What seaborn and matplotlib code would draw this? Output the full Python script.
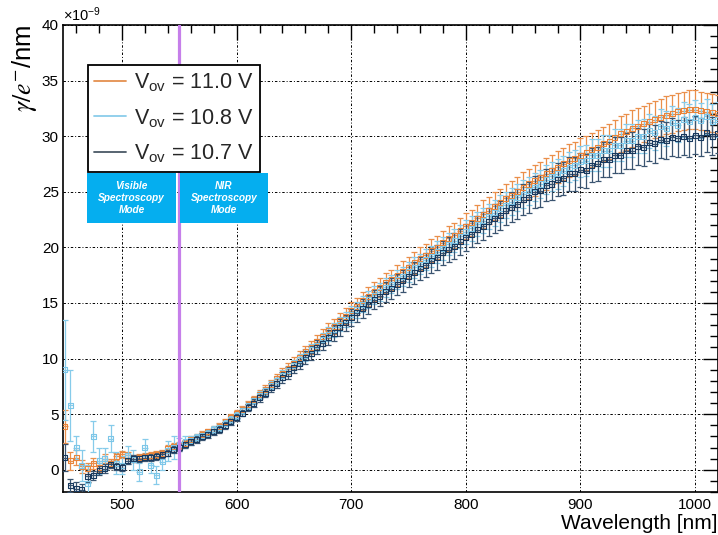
import numpy as np
import pandas as pd
import matplotlib
matplotlib.use("Agg")
import matplotlib.pyplot as plt
import seaborn as sns
from matplotlib.lines import Line2D
from matplotlib.patches import Rectangle
from matplotlib.ticker import MultipleLocator

# ---------------------------------------------------------------- data
wavelength = list(range(450, 1021, 5))  # nm, bin centres

# photons per electron per nm, in units of 1e-9
yield_110 = [
    3.9, 0.8, 1.1, 0.3, 0.1, 0.6, 0.2, 1.0, 0.6, 1.2,
    1.4, 1.3, 1.0, 1.1, 1.2, 1.3, 1.4, 1.5, 1.9, 2.1,
    2.2, 2.4, 2.7, 2.9, 3.2, 3.4, 3.6, 3.9, 4.3, 4.7,
    5.1, 5.4, 5.9, 6.3, 6.8, 7.2, 7.7, 8.2, 8.7, 9.1,
    9.6, 10.1, 10.6, 11.0, 11.5, 12.0, 12.5, 12.9, 13.4, 13.8,
    14.3, 14.7, 15.2, 15.6, 16.0, 16.4, 16.8, 17.1, 17.5, 17.8,
    18.2, 18.6, 19.0, 19.3, 19.7, 20.0, 20.4, 20.8, 21.1, 21.5,
    21.9, 22.2, 22.6, 23.0, 23.3, 23.7, 24.0, 24.4, 24.7, 25.0,
    25.4, 25.7, 26.0, 26.3, 26.6, 26.9, 27.2, 27.5, 27.8, 28.0,
    28.3, 28.5, 28.8, 29.0, 29.3, 29.5, 29.9, 30.2, 30.4, 30.7,
    30.9, 31.1, 31.3, 31.5, 31.7, 31.9, 32.0, 32.2, 32.3, 32.4,
    32.4, 32.3, 32.2, 32.1, 32.0,
]
err_110 = [
    1.5, 0.8, 0.7, 0.6, 0.5, 0.5, 0.4, 0.4, 0.4, 0.3,
    0.3, 0.3, 0.3, 0.3, 0.3, 0.3, 0.3, 0.3, 0.3, 0.3,
    0.3, 0.3, 0.3, 0.3, 0.3, 0.3, 0.3, 0.3, 0.3, 0.3,
    0.3, 0.3, 0.32, 0.34, 0.36, 0.38, 0.41, 0.43, 0.46, 0.48,
    0.51, 0.54, 0.56, 0.58, 0.61, 0.64, 0.66, 0.68, 0.71, 0.73,
    0.76, 0.78, 0.81, 0.83, 0.85, 0.87, 0.89, 0.91, 0.93, 0.94,
    0.96, 0.99, 1.01, 1.02, 1.04, 1.06, 1.08, 1.10, 1.12, 1.14,
    1.16, 1.18, 1.20, 1.22, 1.23, 1.26, 1.27, 1.29, 1.31, 1.33,
    1.35, 1.36, 1.38, 1.39, 1.41, 1.43, 1.44, 1.46, 1.47, 1.48,
    1.50, 1.51, 1.53, 1.54, 1.55, 1.56, 1.58, 1.60, 1.61, 1.63,
    1.64, 1.65, 1.66, 1.67, 1.68, 1.69, 1.70, 1.71, 1.71, 1.72,
    1.72, 1.71, 1.71, 1.70, 1.70,
]

yield_108 = [
    9.0, 5.8, 2.0, 0.4, -1.2, 3.0, 0.8, 1.0, 2.8, 0.6,
    0.4, 1.3, 0.9, -0.2, 2.0, 0.4, -0.5, 0.7, 1.7, 2.0,
    2.3, 2.5, 2.6, 2.9, 3.1, 3.3, 3.6, 3.8, 4.2, 4.5,
    4.9, 5.3, 5.8, 6.2, 6.7, 7.1, 7.6, 8.0, 8.5, 8.9,
    9.4, 9.9, 10.3, 10.8, 11.2, 11.7, 12.2, 12.6, 13.1, 13.5,
    14.0, 14.4, 14.9, 15.3, 15.7, 16.0, 16.4, 16.7, 17.1, 17.4,
    17.8, 18.2, 18.5, 18.9, 19.2, 19.6, 19.9, 20.3, 20.6, 21.0,
    21.4, 21.7, 22.1, 22.4, 22.8, 23.1, 23.5, 23.8, 24.1, 24.5,
    24.8, 25.1, 25.4, 25.7, 26.1, 26.4, 26.6, 26.9, 27.2, 27.4,
    27.7, 27.8, 28.3, 28.3, 28.7, 28.7, 29.2, 29.2, 29.6, 29.6,
    30.0, 30.0, 30.5, 30.3, 30.9, 30.7, 31.2, 31.0, 31.5, 31.3,
    31.7, 31.4, 31.8, 31.3, 31.5,
]
err_108 = [
    4.5, 3.2, 1.0, 1.4, 1.6, 1.4, 1.2, 1.0, 1.2, 1.0,
    0.8, 0.8, 0.9, 0.8, 0.8, 0.7, 0.8, 0.7, 0.9, 1.0,
    0.6, 0.5, 0.4, 0.3, 0.3, 0.3, 0.3, 0.3, 0.3, 0.3,
    0.3, 0.3, 0.3, 0.31, 0.34, 0.36, 0.38, 0.40, 0.43, 0.45,
    0.47, 0.50, 0.52, 0.54, 0.56, 0.59, 0.61, 0.63, 0.66, 0.68,
    0.70, 0.72, 0.75, 0.77, 0.79, 0.80, 0.82, 0.84, 0.86, 0.87,
    0.89, 0.91, 0.93, 0.95, 0.96, 0.98, 1.00, 1.02, 1.03, 1.05,
    1.07, 1.09, 1.11, 1.12, 1.14, 1.16, 1.18, 1.19, 1.21, 1.23,
    1.24, 1.26, 1.27, 1.29, 1.31, 1.32, 1.33, 1.35, 1.36, 1.37,
    1.38, 1.40, 1.41, 1.42, 1.43, 1.44, 1.45, 1.47, 1.48, 1.49,
    1.50, 1.51, 1.52, 1.53, 1.54, 1.55, 1.56, 1.56, 1.57, 1.58,
    1.58, 1.59, 1.58, 1.58, 1.57,
]

yield_107 = [
    1.1, -1.4, -1.7, -1.8, -0.6, -0.5, -0.1, 0.1, 0.5, 0.3,
    0.2, 0.8, 1.0, 1.0, 1.1, 1.1, 1.2, 1.4, 1.5, 1.8,
    2.0, 2.3, 2.5, 2.7, 3.0, 3.2, 3.4, 3.6, 4.0, 4.3,
    4.7, 5.1, 5.6, 6.0, 6.5, 6.9, 7.4, 7.8, 8.3, 8.7,
    9.2, 9.6, 10.1, 10.5, 11.0, 11.4, 11.9, 12.3, 12.8, 13.2,
    13.7, 14.1, 14.5, 14.9, 15.3, 15.6, 16.0, 16.3, 16.7, 17.0,
    17.4, 17.7, 18.1, 18.4, 18.8, 19.1, 19.5, 19.8, 20.1, 20.5,
    20.9, 21.2, 21.6, 21.9, 22.3, 22.6, 22.9, 23.3, 23.6, 23.9,
    24.3, 24.5, 25.0, 25.1, 25.6, 25.7, 26.1, 26.2, 26.6, 26.6,
    27.0, 26.9, 27.4, 27.5, 27.9, 27.9, 28.3, 28.3, 28.7, 28.7,
    29.1, 29.0, 29.4, 29.3, 29.7, 29.6, 29.9, 29.8, 30.0, 29.8,
    30.1, 29.9, 30.3, 30.0, 30.2,
]
err_107 = [
    1.2, 0.6, 0.6, 0.5, 0.5, 0.4, 0.4, 0.4, 0.3, 0.3,
    0.3, 0.3, 0.3, 0.3, 0.3, 0.3, 0.3, 0.3, 0.3, 0.3,
    0.3, 0.3, 0.3, 0.3, 0.3, 0.3, 0.3, 0.3, 0.3, 0.3,
    0.3, 0.3, 0.3, 0.35, 0.37, 0.39, 0.42, 0.44, 0.47, 0.50,
    0.52, 0.55, 0.58, 0.60, 0.63, 0.65, 0.68, 0.70, 0.73, 0.75,
    0.78, 0.80, 0.83, 0.85, 0.87, 0.89, 0.91, 0.93, 0.95, 0.97,
    0.99, 1.01, 1.03, 1.05, 1.07, 1.09, 1.11, 1.13, 1.15, 1.17,
    1.19, 1.21, 1.23, 1.25, 1.27, 1.29, 1.31, 1.33, 1.35, 1.36,
    1.39, 1.40, 1.42, 1.44, 1.45, 1.47, 1.48, 1.50, 1.51, 1.52,
    1.53, 1.54, 1.56, 1.57, 1.58, 1.60, 1.61, 1.62, 1.63, 1.64,
    1.65, 1.66, 1.67, 1.68, 1.69, 1.69, 1.70, 1.70, 1.70, 1.70,
    1.71, 1.71, 1.72, 1.72, 1.72,
]

bin_halfwidth = 2.5  # nm
mode_boundary = 550  # nm

series_labels = [r"V$_{\mathrm{ov}}$ = 11.0 V",
                 r"V$_{\mathrm{ov}}$ = 10.8 V",
                 r"V$_{\mathrm{ov}}$ = 10.7 V"]

# ---------------------------------------------------------------- style
sns.set_theme(style="white")
plt.rcParams["font.family"] = ["Liberation Sans", "DejaVu Sans"]
plt.rcParams["mathtext.fontset"] = "custom"
plt.rcParams["mathtext.rm"] = "Liberation Sans"
plt.rcParams["mathtext.it"] = "Liberation Sans:italic"

W, H = 718, 535
fig = plt.figure(figsize=(W / 100, H / 100), dpi=100)
fig.patch.set_facecolor("white")
ax = fig.add_axes([63 / W, 43 / H, 655 / W, 467 / H])
ax.set_facecolor("white")

frames = []
for lab, y, e in [("11.0", yield_110, err_110),
                  ("10.8", yield_108, err_108),
                  ("10.7", yield_107, err_107)]:
    frames.append(pd.DataFrame({"wavelength": wavelength, "gamma": y,
                                "err": e, "vov": lab}))
df = pd.concat(frames, ignore_index=True)

styles = {
    "11.0": dict(color="#E8843A", ecolor="#EA8F4A"),
    "10.8": dict(color="#7CC6E8", ecolor="#86CBEA"),
    "10.7": dict(color="#18395E", ecolor="#3A5470"),
}

for key in ["11.0", "10.8", "10.7"]:
    d = df[df["vov"] == key]
    st = styles[key]
    ax.errorbar(d["wavelength"], d["gamma"], yerr=d["err"], fmt="none",
                ecolor=st["ecolor"], elinewidth=0.9, capsize=1.9,
                capthick=0.9, zorder=3)
    ax.errorbar(d["wavelength"], d["gamma"], xerr=bin_halfwidth, fmt="none",
                ecolor=st["ecolor"], elinewidth=0.9, capsize=0, zorder=3)
    sns.scatterplot(data=d, x="wavelength", y="gamma", ax=ax, marker="s",
                    s=13, color=st["color"], facecolors="none",
                    edgecolor=st["color"], linewidth=0.8, legend=False,
                    zorder=4)

ax.axvline(mode_boundary, color="#C67FEA", lw=2.3, zorder=5)

# axes
ax.set_xlim(448.5, 1020)
ax.set_ylim(-2, 40)
ax.xaxis.set_major_locator(MultipleLocator(100))
ax.xaxis.set_minor_locator(MultipleLocator(20))
ax.yaxis.set_major_locator(MultipleLocator(5))
ax.yaxis.set_minor_locator(MultipleLocator(1))
ax.tick_params(which="both", direction="in", top=True, right=True,
               color="black", width=1.0)
ax.tick_params(which="major", length=11, labelsize=11, labelcolor="black")
ax.tick_params(which="minor", length=6)
ax.tick_params(axis="x", which="major", pad=4)
ax.tick_params(axis="y", which="major", pad=3)
for sp in ax.spines.values():
    sp.set_visible(True)
    sp.set_color("black")
    sp.set_linewidth(1.2)
ax.grid(True, which="major", color="black", lw=0.7,
        linestyle=(0, (2.5, 2.0, 1.0, 2.0)))
ax.set_axisbelow(True)

ax.set_xlabel("Wavelength [nm]", loc="right", fontsize=15, color="black")
ax.xaxis.set_label_coords(0.999, -0.047)
ax.set_ylabel(r"$\gamma/e^{-}$/nm", loc="top", fontsize=18.5, color="black",
              math_fontfamily="stix")
ax.yaxis.set_label_coords(-0.036, 1.002)
ax.text(0.0, 1.003, r"$\times$10$^{-9}$", transform=ax.transAxes,
        ha="left", va="bottom", fontsize=10.5, color="black")

# legend
handle_colors = ["#E4904F", "#8ACDEA", "#4A5866"]
handles = [Line2D([], [], color=c, lw=1.3) for c in handle_colors]
leg = ax.legend(handles, series_labels, loc="upper left",
                bbox_to_anchor=(88 / W, 1 - 65 / H),
                bbox_transform=fig.transFigure, fontsize=15.5, frameon=True,
                fancybox=False, edgecolor="black", framealpha=1.0,
                handlelength=1.45, handletextpad=0.4, borderpad=0.3,
                labelspacing=0.6, borderaxespad=0)
leg.get_frame().set_linewidth(1.3)
leg.set_zorder(10)

# spectroscopy mode boxes
box_color = "#05AEEF"
for x0, x1, txt in [(87, 176, "Visible\nSpectroscopy\nMode"),
                    (180, 268, "NIR\nSpectroscopy\nMode")]:
    y0, y1 = 173, 223
    fig.patches.append(Rectangle((x0 / W, 1 - y1 / H), (x1 - x0) / W,
                                 (y1 - y0) / H, transform=fig.transFigure,
                                 facecolor=box_color, edgecolor="none",
                                 zorder=8))
    fig.text((x0 + x1) / 2 / W, 1 - (y0 + y1) / 2 / H, txt, ha="center",
             va="center", color="white", fontsize=7.3, fontweight="bold",
             fontstyle="italic", linespacing=1.3, zorder=9)

fig.savefig("out.png", dpi=100)
